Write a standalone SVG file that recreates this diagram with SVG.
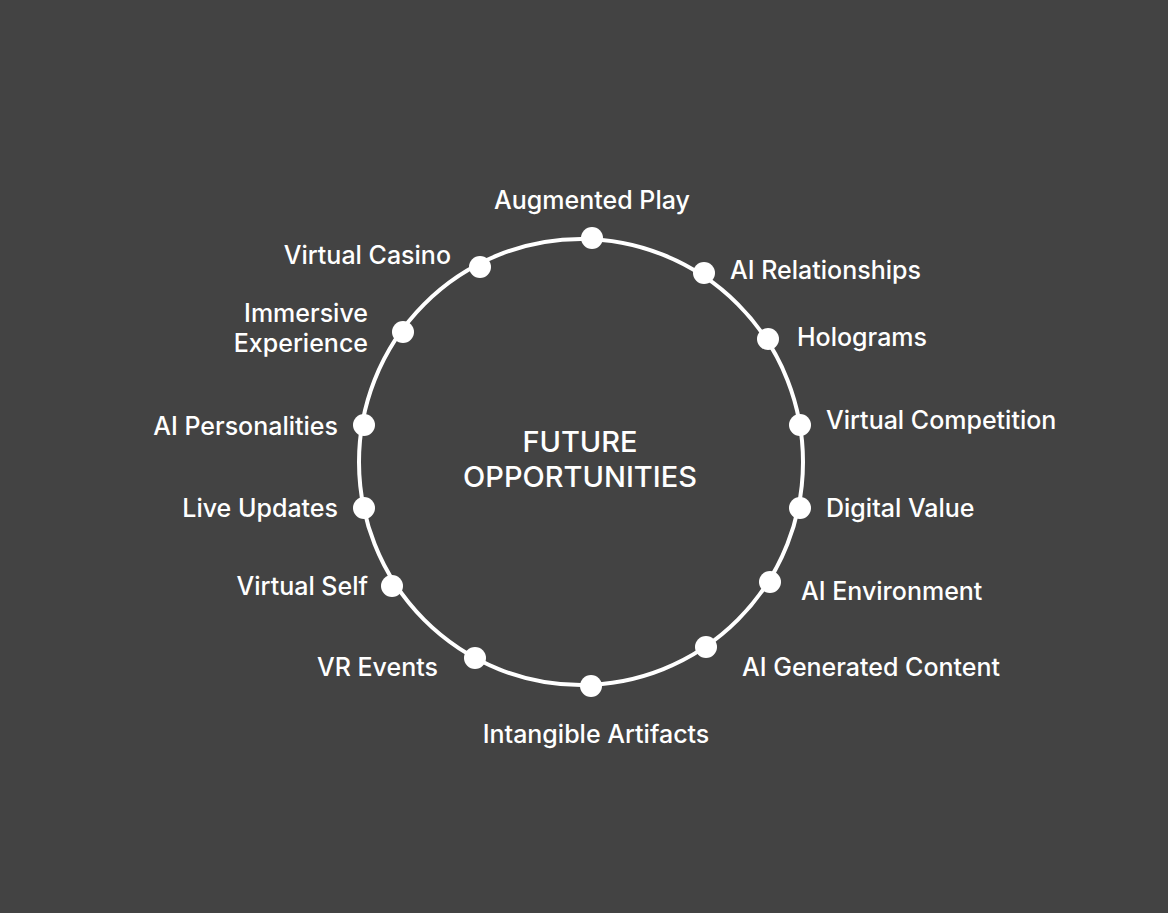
<svg xmlns="http://www.w3.org/2000/svg" width="1168" height="913" viewBox="0 0 1168 913">
<style>
.lbl{font-family:Inter,"Noto Sans","Liberation Sans",sans-serif;font-size:25px;font-weight:500;fill:#ffffff}
.s{text-anchor:start}.e{text-anchor:end}.m{text-anchor:middle}
.title{font-family:Inter,"Noto Sans","Liberation Sans",sans-serif;font-size:29px;font-weight:500;fill:#ffffff;text-anchor:middle}
.dot{fill:#ffffff}
</style>
<rect width="1168" height="913" fill="#434343"/>
<g id="connectors">
<ellipse cx="581" cy="462" rx="222" ry="223" fill="none" stroke="#ffffff" stroke-width="4"/>
</g>
<g id="center"><text class="title" x="580" y="452">FUTURE</text><text class="title" x="580" y="487">OPPORTUNITIES</text></g>
<g id="n1"><circle class="dot" cx="592" cy="238" r="11"/><text class="lbl m" x="592" y="209">Augmented Play</text></g>
<g id="n2"><circle class="dot" cx="704" cy="273" r="11"/><text class="lbl s" x="730" y="279">AI Relationships</text></g>
<g id="n3"><circle class="dot" cx="768" cy="339" r="11"/><text class="lbl s" x="797" y="346">Holograms</text></g>
<g id="n4"><circle class="dot" cx="800" cy="425" r="11"/><text class="lbl s" x="826" y="429">Virtual Competition</text></g>
<g id="n5"><circle class="dot" cx="800" cy="508" r="11"/><text class="lbl s" x="826" y="517">Digital Value</text></g>
<g id="n6"><circle class="dot" cx="770" cy="582" r="11"/><text class="lbl s" x="801" y="600">AI Environment</text></g>
<g id="n7"><circle class="dot" cx="706" cy="647" r="11"/><text class="lbl s" x="742" y="676">AI Generated Content</text></g>
<g id="n8"><circle class="dot" cx="591" cy="686" r="11"/><text class="lbl m" x="596" y="743">Intangible Artifacts</text></g>
<g id="n9"><circle class="dot" cx="475" cy="658" r="11"/><text class="lbl e" x="438" y="676">VR Events</text></g>
<g id="n10"><circle class="dot" cx="392" cy="586" r="11"/><text class="lbl e" x="368" y="595">Virtual Self</text></g>
<g id="n11"><circle class="dot" cx="364" cy="508" r="11"/><text class="lbl e" x="338" y="517">Live Updates</text></g>
<g id="n12"><circle class="dot" cx="364" cy="425" r="11"/><text class="lbl e" x="338" y="435">AI Personalities</text></g>
<g id="n13"><circle class="dot" cx="403" cy="332" r="11"/><text class="lbl e" x="368" y="322">Immersive</text><text class="lbl e" x="368" y="352">Experience</text></g>
<g id="n14"><circle class="dot" cx="480" cy="267" r="11"/><text class="lbl e" x="451" y="264">Virtual Casino</text></g>
</svg>
